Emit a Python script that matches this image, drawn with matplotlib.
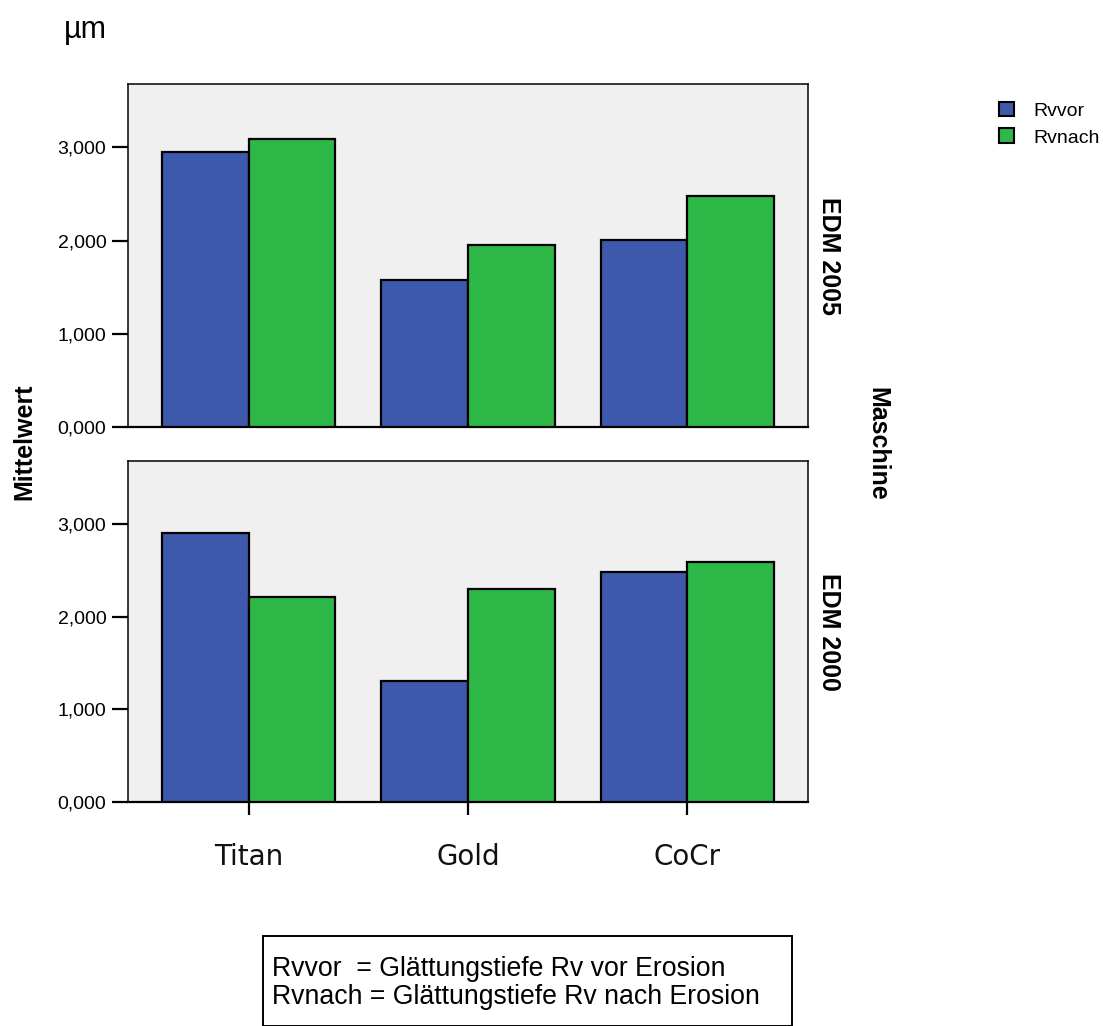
import matplotlib
matplotlib.use("Agg")
import matplotlib.pyplot as plt
from matplotlib.patches import Patch, Rectangle
from matplotlib.ticker import FuncFormatter
import numpy as np

materials = ["Titan", "Gold", "CoCr"]
series = ["Rvvor", "Rvnach"]
machines = ["EDM 2005", "EDM 2000"]
edm2005_vor = [2.946, 1.581, 2.009]
edm2005_nach = [3.090, 1.951, 2.483]
edm2000_vor = [2.903, 1.311, 2.483]
edm2000_nach = [2.217, 2.296, 2.587]
yticks = [0, 1, 2, 3]

blue = "#3e58ac"
green = "#2eb848"
bg = "#f0f0f0"
sans = ["Liberation Sans", "DejaVu Sans"]

fig = plt.figure(figsize=(11.03, 10.26), dpi=100)
W, H = 1103, 1026

def ax_rect(l, t, r, b):
    return [l / W, 1 - b / H, (r - l) / W, (b - t) / H]

ax1 = fig.add_axes(ax_rect(128, 84, 808, 427))
ax2 = fig.add_axes(ax_rect(128, 461, 808, 802))

data = [(edm2005_vor, edm2005_nach), (edm2000_vor, edm2000_nach)]
x = np.arange(len(materials))
bw = 0.395
fmt = FuncFormatter(lambda v, p: f"{v:.3f}".replace(".", ","))

for ax, (vor, nach), mach in zip([ax1, ax2], data, machines):
    ax.set_facecolor(bg)
    ax.bar(x - bw / 2, vor, bw, color=blue, edgecolor="black", linewidth=1.6, zorder=3)
    ax.bar(x + bw / 2, nach, bw, color=green, edgecolor="black", linewidth=1.6, zorder=3)
    ax.set_xlim(-0.55, 2.55)
    ax.set_ylim(0, 3.68)
    ax.set_yticks(yticks)
    ax.yaxis.set_major_formatter(fmt)
    ax.tick_params(axis="y", direction="out", length=11.3, width=1.6, pad=4.3,
                   labelsize=14)
    for lab in ax.get_yticklabels():
        lab.set_fontfamily(sans)
    for s in ax.spines.values():
        s.set_linewidth(1.1)
        s.set_color("black")
    ax.spines["bottom"].set_linewidth(1.6)
    ax.text(1.031, 0.5, mach, transform=ax.transAxes, rotation=-90,
            ha="center", va="center", fontsize=18, fontweight="bold",
            family=sans)

ax1.set_xticks(x)
ax1.tick_params(axis="x", length=0, labelbottom=False)
ax2.set_xticks(x)
ax2.set_xticklabels(materials)
ax2.tick_params(axis="x", direction="out", length=9.5, width=1.6, pad=20,
                labelsize=20, labelcolor="#111111")
for lab in ax2.get_xticklabels():
    lab.set_fontfamily(["DejaVu Sans"])

fig.text(24 / W, 1 - 442 / H, "Mittelwert", rotation=90, ha="center",
         va="center", fontsize=18, fontweight="bold", family=sans)
fig.text(877 / W, 1 - 444 / H, "Maschine", rotation=-90, ha="center",
         va="center", fontsize=18, fontweight="bold", family=sans)
fig.text(64 / W, 1 - 38 / H, "µm", ha="left", va="baseline", fontsize=22,
         family=sans)

handles = [Patch(facecolor=blue, edgecolor="black", linewidth=1.5),
           Patch(facecolor=green, edgecolor="black", linewidth=1.5)]
leg = fig.legend(handles, series, loc="upper left",
                 bbox_to_anchor=(983 / W, 1 - 86 / H), frameon=False,
                 handlelength=0.8, handleheight=0.8, handletextpad=1.0,
                 labelspacing=0.45, borderpad=0.3, prop={"family": sans, "size": 14})

box = Rectangle((263 / W, 0), (792 - 263) / W, 1 - 936 / H,
                transform=fig.transFigure, fill=False, edgecolor="black",
                linewidth=1.4)
fig.add_artist(box)
fig.text(272 / W, 1 - 969 / H, "Rvvor  = Glättungstiefe Rv vor Erosion",
         ha="left", va="center", fontsize=19.2, family=sans)
fig.text(272 / W, 1 - 997 / H, "Rvnach = Glättungstiefe Rv nach Erosion",
         ha="left", va="center", fontsize=19.2, family=sans)

fig.savefig("out.png", dpi=100)
